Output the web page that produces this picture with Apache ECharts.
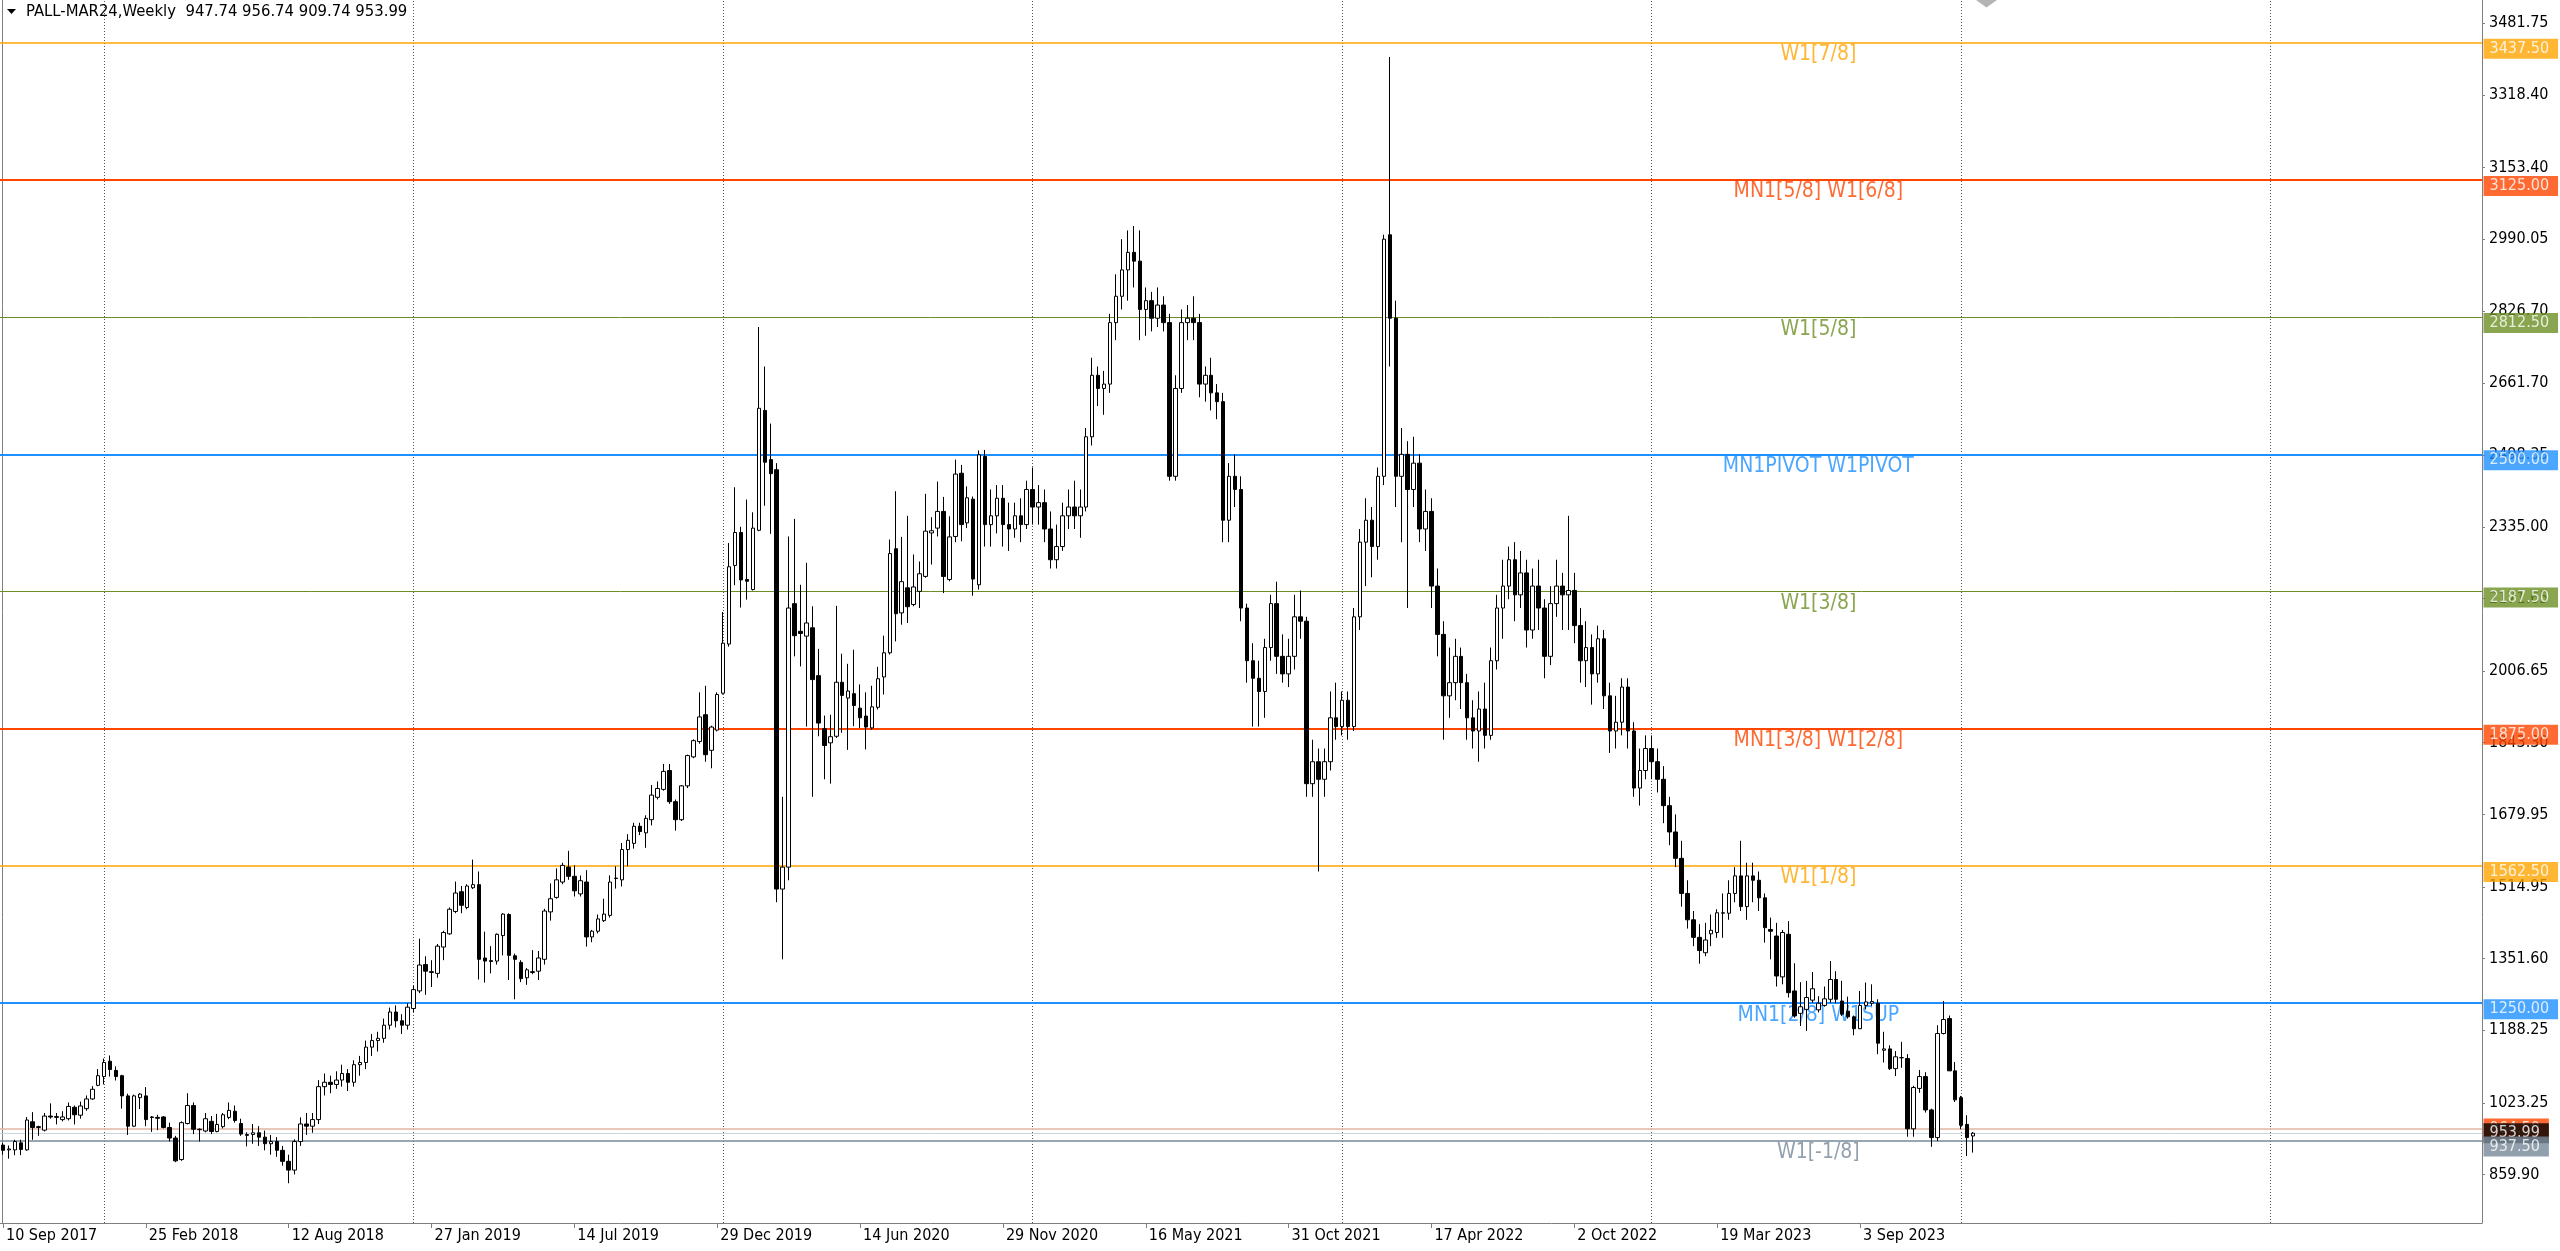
<!DOCTYPE html>
<html><head><meta charset="utf-8">
<script src="https://cdn.jsdelivr.net/npm/echarts@6/dist/echarts.min.js"></script>
<style>html,body{margin:0;padding:0;background:#fff}#c{width:2560px;height:1251px}</style>
</head><body><div id="c"></div>
<script>
// ---- data: weekly candles [open, high, low, close] ----
const candles2017 = [[927,932,905,915],[916,926,896,918],[916,939,904,935],[932,939,904,917],[916,991,914,984],[980,1002,939,967],[967,971,948,969],[961,1000,958,993],[993,1022,987,991],[990,1000,974,992],[985,1004,981,991],[987,1024,983,1015],[1013,1017,974,996],[995,1026,987,1016],[1010,1040,1005,1032],[1032,1061,1030,1054],[1063,1100,1061,1085]];
const candles2018 = [[1083,1124,1065,1115],[1118,1131,1083,1099],[1097,1106,1074,1083],[1085,1087,1010,1039],[1039,1044,950,970],[970,1042,968,1039],[1035,1045,1009,1043],[1039,1059,970,985],[991,993,957,990],[990,996,961,988],[991,993,965,967],[967,978,935,943],[943,948,888,891],[894,981,891,978],[976,1045,974,1017],[1017,1024,952,963],[963,965,935,962],[959,1000,956,987],[981,993,952,958],[958,998,956,974],[969,1000,965,996],[990,1024,986,1006],[1004,1017,978,983],[976,987,948,952],[949,956,924,951],[951,975,930,955],[955,970,925,945],[945,960,915,930],[930,950,905,935],[935,945,900,915],[915,925,880,890],[890,905,840,870],[870,940,860,935],[935,990,925,975],[975,1000,950,970],[970,1000,955,985],[985,1075,975,1060],[1060,1090,1040,1070],[1070,1085,1045,1065],[1065,1095,1055,1075],[1075,1110,1060,1090],[1090,1100,1050,1070],[1070,1120,1060,1110],[1110,1130,1085,1115],[1115,1165,1100,1150],[1150,1180,1130,1165],[1165,1185,1140,1170],[1170,1215,1160,1200],[1200,1240,1190,1230],[1230,1245,1195,1210],[1210,1225,1180,1200],[1200,1250,1190,1241]];
const candles2019 = [[1238,1290,1230,1281],[1278,1397,1273,1337],[1338,1357,1269,1323],[1320,1348,1287,1322],[1318,1385,1308,1380],[1378,1415,1348,1411],[1408,1468,1406,1464],[1459,1527,1455,1501],[1504,1517,1455,1473],[1468,1521,1464,1517],[1513,1577,1510,1520],[1520,1550,1304,1350],[1353,1413,1297,1346],[1347,1380,1318,1345],[1346,1409,1338,1407],[1404,1455,1359,1453],[1452,1455,1303,1359],[1358,1363,1259,1350],[1343,1348,1298,1306],[1308,1330,1292,1326],[1320,1371,1316,1322],[1323,1369,1303,1353],[1350,1465,1338,1460],[1458,1523,1438,1488],[1491,1557,1488,1531],[1526,1570,1521,1564],[1560,1597,1531,1539],[1539,1564,1493,1506],[1499,1541,1493,1529],[1526,1553,1379,1401],[1401,1417,1389,1414],[1414,1452,1409,1442],[1438,1488,1435,1453],[1450,1541,1445,1526],[1534,1562,1511,1535],[1531,1615,1516,1600],[1600,1635,1562,1621],[1614,1661,1602,1653],[1653,1661,1633,1641],[1638,1678,1604,1671],[1668,1747,1655,1724],[1719,1755,1714,1739],[1737,1795,1734,1778],[1780,1795,1704,1709],[1709,1714,1643,1668],[1668,1747,1665,1745],[1745,1816,1740,1814],[1811,1851,1808,1848],[1846,1958,1841,1902],[1907,1973,1800,1816],[1826,1882,1785,1879],[1872,1958,1869,1953]];
const candles2020 = [[1956,2141,1953,2070],[2068,2298,2062,2244],[2247,2425,2202,2322],[2322,2335,2151,2214],[2215,2397,2169,2211],[2192,2368,2190,2332],[2327,2790,2325,2605],[2600,2700,2383,2482],[2488,2570,2319,2456],[2465,2480,1480,1510],[1510,1720,1350,1560],[1560,2313,1530,2150],[2160,2353,2040,2087],[2097,2203,2017,2092],[2086,2253,1880,2116],[2105,2154,1720,1987],[1996,2057,1858,1888],[1875,1905,1760,1837],[1843,1907,1750,1857],[1858,2155,1854,1981],[1981,2046,1866,1951],[1945,2023,1827,1961],[1955,2055,1881,1928],[1922,1976,1877,1900],[1904,1958,1828,1879],[1877,1973,1873,1925],[1924,2016,1919,1989],[1993,2087,1953,2048],[2048,2306,2044,2274],[2285,2416,2074,2137],[2139,2312,2112,2210],[2196,2360,2116,2153],[2158,2272,2154,2198],[2188,2256,2150,2228],[2222,2410,2219,2325],[2321,2357,2249,2326],[2332,2438,2313,2370],[2370,2403,2184,2222],[2215,2359,2211,2312],[2313,2488,2300,2455],[2457,2476,2302,2340],[2344,2427,2332,2401],[2398,2404,2178,2216],[2203,2509,2192,2499],[2495,2510,2290,2340],[2340,2420,2290,2360],[2360,2430,2320,2400],[2400,2430,2290,2340],[2340,2390,2280,2330],[2330,2390,2310,2360],[2360,2400,2300,2340],[2340,2440,2330,2420]];
const candles2021 = [[2420,2470,2340,2380],[2380,2430,2340,2390],[2390,2420,2300,2330],[2330,2370,2240,2260],[2260,2340,2240,2290],[2290,2390,2280,2360],[2360,2420,2330,2380],[2380,2440,2330,2360],[2360,2420,2310,2380],[2380,2560,2370,2540],[2540,2720,2520,2680],[2680,2700,2610,2650],[2650,2690,2590,2660],[2660,2820,2640,2800],[2800,2910,2760,2860],[2860,2990,2830,2920],[2920,3010,2850,2960],[2960,3020,2880,2940],[2940,3010,2760,2830],[2830,2880,2770,2850],[2850,2870,2780,2810],[2810,2880,2790,2840],[2840,2860,2780,2800],[2800,2820,2440,2450],[2450,2680,2440,2650],[2650,2830,2640,2800],[2800,2840,2760,2810],[2810,2860,2760,2800],[2800,2820,2630,2660],[2660,2700,2620,2680],[2680,2720,2600,2640],[2640,2660,2580,2620],[2620,2640,2300,2350],[2350,2480,2300,2450],[2450,2500,2380,2420],[2420,2450,2120,2150],[2150,2160,1980,2030],[2030,2070,1880,1990],[1990,2030,1880,1960],[1960,2080,1900,2060],[2060,2180,2030,2160],[2160,2210,2000,2040],[2040,2090,1980,2000],[2000,2080,1970,2040],[2040,2180,2010,2130],[2130,2190,2080,2120],[2120,2130,1720,1750],[1750,1850,1720,1800],[1800,1830,1550,1760],[1760,1830,1720,1800],[1800,1960,1780,1900],[1900,1980,1850,1880]];
const candles2022 = [[1880,1960,1860,1940],[1940,1960,1850,1880],[1880,2150,1870,2130],[2130,2330,2100,2300],[2300,2400,2200,2350],[2350,2380,2220,2290],[2290,2470,2260,2450],[2450,3000,2430,2990],[3000,3405,2700,2810],[2810,2850,2380,2450],[2450,2560,2300,2500],[2500,2530,2150,2420],[2420,2540,2380,2480],[2480,2500,2300,2330],[2330,2420,2280,2370],[2370,2400,2150,2200],[2200,2240,2040,2090],[2090,2120,1850,1950],[1950,2060,1900,1980],[1980,2080,1940,2040],[2040,2060,1920,1980],[1980,2000,1850,1900],[1900,1940,1830,1870],[1870,1960,1800,1920],[1920,1980,1830,1860],[1860,2060,1850,2030],[2030,2180,2010,2150],[2150,2260,2080,2200],[2200,2290,2170,2260],[2260,2300,2120,2180],[2180,2280,2150,2230],[2230,2260,2060,2100],[2100,2240,2080,2200],[2200,2260,2100,2150],[2150,2170,1990,2040],[2040,2200,2020,2160],[2160,2260,2130,2200],[2200,2230,2100,2180],[2180,2360,2100,2190],[2190,2230,2070,2110],[2110,2150,1980,2030],[2030,2120,1970,2060],[2060,2090,1930,2000],[2000,2110,1980,2080],[2080,2100,1920,1950],[1950,1980,1820,1870],[1870,1950,1830,1890],[1890,1990,1860,1970],[1970,1990,1830,1870],[1870,1890,1720,1740],[1740,1830,1700,1780],[1780,1860,1760,1830]];
const candles2023 = [[1830,1860,1760,1800],[1800,1830,1730,1760],[1760,1790,1660,1700],[1700,1720,1610,1640],[1640,1680,1560,1580],[1580,1620,1470,1500],[1500,1530,1420,1440],[1440,1460,1380,1400],[1400,1430,1340,1370],[1365,1433,1357,1394],[1408,1452,1380,1416],[1411,1464,1399,1456],[1455,1500,1399,1456],[1455,1530,1440,1500],[1500,1560,1480,1540],[1540,1620,1460,1470],[1470,1570,1440,1540],[1540,1570,1480,1530],[1530,1550,1460,1490],[1490,1500,1388,1422],[1418,1445,1350,1414],[1403,1433,1288,1312],[1310,1417,1293,1411],[1407,1437,1263,1274],[1278,1341,1217,1221],[1227,1298,1198,1242],[1236,1301,1187,1263],[1257,1321,1251,1283],[1235,1266,1229,1250],[1245,1288,1242,1260],[1259,1346,1251,1304],[1304,1323,1250,1259],[1255,1301,1221,1225],[1232,1265,1215,1219],[1219,1222,1177,1192],[1192,1278,1191,1245],[1245,1297,1236,1253],[1250,1293,1244,1254],[1250,1259,1134,1159],[1143,1185,1115,1146],[1146,1154,1098,1101],[1101,1141,1084,1128],[1126,1162,1103,1126],[1124,1134,946,964],[964,1062,946,1058],[1056,1098,1046,1083],[1083,1093,1001,1007],[1007,1010,923,944],[944,1200,936,1181],[1181,1255,1179,1213],[1215,1222,1096,1096],[1096,1116,1025,1030]];
const candles2024 = [[1035,1039,963,972],[974,995,902,944],[947.74,956.74,909.74,953.99]];

const dateLabels = ['10 Sep 2017','25 Feb 2018','12 Aug 2018','27 Jan 2019','14 Jul 2019','29 Dec 2019','14 Jun 2020','29 Nov 2020','16 May 2021','31 Oct 2021','17 Apr 2022','2 Oct 2022','19 Mar 2023','3 Sep 2023'];
const priceTicks = [859.90,1023.25,1188.25,1351.60,1514.95,1679.95,1843.30,2006.65,2171.65,2335.00,2498.35,2661.70,2826.70,2990.05,3153.40,3318.40,3481.75];
const levelValues = [3437.5,3125,2812.5,2500,2187.5,1875,1562.5,1250,937.5];
const levelNames = ['W1[7/8]','MN1[5/8] W1[6/8]','W1[5/8]','MN1PIVOT W1PIVOT','W1[3/8]','MN1[3/8] W1[2/8]','W1[1/8]','MN1[2/8] W1SUP','W1[-1/8]'];
const yearStartBars = [17,69,121,173,225,277,329,381];
const bidPrice = 953.99;
const askPrice = 964.5;

// ---- styles ----
const levelColors = ['#FFA500','#FF4500','#6B8E23','#1E90FF','#6B8E23','#FF4500','#FFA500','#1E90FF','#778899'];
const levelWidths = [1.5,2,1,2,1,2,1.5,2,1.5];
const FONT = "'DejaVu Sans Condensed', 'DejaVu Sans', sans-serif";
const SLOTS = 417;
const LABEL_STEP = 24;
const CLEAR = 'rgba(0,0,0,0)';

const ohlc = [].concat(candles2017, candles2018, candles2019, candles2020, candles2021, candles2022, candles2023, candles2024);
const candleData = ohlc.map(r => [r[0], r[3], r[2], r[1]]);
const lastBar = ohlc.length - 1;
const last = ohlc[lastBar];
const categories = Array.from({length: SLOTS}, (_, i) => String(i));
const showTick = (i) => i % LABEL_STEP === 0 && i <= lastBar;

const chart = echarts.init(document.getElementById('c'), null, {renderer: 'canvas'});
const markData = [];
yearStartBars.forEach(b => markData.push({xAxis: b, lineStyle: {color: '#555', type: [1, 2], width: 1}}));
levelValues.forEach((v, i) => markData.push({yAxis: v, lineStyle: {color: levelColors[i], width: levelWidths[i], type: 'solid'}}));
markData.push({yAxis: askPrice, lineStyle: {color: '#E2B6A2', width: 1.5, type: 'solid'}});
markData.push({yAxis: bidPrice, lineStyle: {color: '#CDD5DD', width: 1, type: 'solid'}});

const tagLabel = {show: true, position: 'right', distance: 4, color: '#fff', fontSize: 16, lineHeight: 15, fontFamily: FONT, padding: [3, 9, 2, 6]};

chart.setOption({
  animation: false,
  backgroundColor: '#fff',
  title: {
    text: 'PALL-MAR24,Weekly  ' + last.map(v => v.toFixed(2)).join(' '),
    left: 26, top: 3, padding: 0,
    textStyle: {fontSize: 16.5, fontWeight: 'normal', color: '#000', fontFamily: FONT}
  },
  graphic: [
    {type: 'polygon', shape: {points: [[7, 9], [16, 9], [11.5, 14]]}, style: {fill: '#000'}},
    {type: 'polygon', shape: {points: [[1976, 0], [1997, 0], [1986.5, 7.5]]}, style: {fill: '#b4b4b4'}}
  ],
  grid: {left: -1, right: 78, top: 0, bottom: 28, containLabel: false},
  xAxis: [{
    type: 'category', data: categories, boundaryGap: true,
    axisLine: {onZero: false, lineStyle: {color: '#7f7f7f', width: 1}},
    axisTick: {show: true, interval: (i) => showTick(i), alignWithLabel: true, length: 5, lineStyle: {color: '#7f7f7f'}},
    axisLabel: {interval: (i) => showTick(i), formatter: (v, i) => dateLabels[i / LABEL_STEP], align: 'left', margin: 5, padding: [0, 0, 0, 3], fontSize: 16, fontFamily: FONT, color: '#000'},
    splitLine: {show: false}
  }],
  yAxis: [{
    type: 'value', position: 'right', min: 749.5, max: 3534.7,
    axisLine: {show: true, lineStyle: {color: '#7f7f7f'}},
    axisTick: {show: true, customValues: priceTicks, length: 3, lineStyle: {color: '#7f7f7f'}},
    axisLabel: {customValues: priceTicks, formatter: v => v.toFixed(2), margin: 7, fontSize: 16, fontFamily: FONT, color: '#000'},
    splitLine: {show: false}
  }, {
    type: 'value', position: 'left', offset: -2, min: 749.5, max: 3534.7,
    axisLine: {show: true, lineStyle: {color: '#7f7f7f'}}, axisTick: {show: false}, axisLabel: {show: false}, splitLine: {show: false}
  }],
  series: [
    {
      type: 'candlestick', name: 'PALL-MAR24', data: candleData, barWidth: 4, z: 3,
      itemStyle: {color: '#ffffff', color0: '#000000', borderColor: '#000000', borderColor0: '#000000', borderWidth: 1},
      markLine: {silent: true, symbol: ['none', 'none'], z: 1, animation: false, label: {show: false}, data: markData}
    },
    {
      type: 'scatter', name: 'levelText', z: 2, silent: true, symbolSize: 1, itemStyle: {color: CLEAR}, clip: false,
      data: levelValues.map((v, i) => ({value: [305.4, v], name: levelNames[i], label: {color: levelColors[i]}})),
      label: {show: true, position: 'bottom', distance: 1, formatter: '{b}', fontSize: 21, fontFamily: FONT}
    },
    {
      type: 'scatter', name: 'askTag', z: 5, silent: true, symbolSize: 1, itemStyle: {color: CLEAR}, clip: false,
      data: [{value: [SLOTS - 1, askPrice]}],
      label: Object.assign({}, tagLabel, {backgroundColor: '#FF4500', formatter: askPrice.toFixed(2)})
    },
    {
      type: 'scatter', name: 'bidTag', z: 6, silent: true, symbolSize: 1, itemStyle: {color: CLEAR}, clip: false,
      data: [{value: [SLOTS - 1, bidPrice]}],
      label: Object.assign({}, tagLabel, {backgroundColor: '#000000', formatter: bidPrice.toFixed(2)})
    },
    {
      type: 'scatter', name: 'levelTags', z: 7, silent: true, symbolSize: 1, itemStyle: {color: CLEAR}, clip: false,
      data: levelValues.map((v, i) => ({value: [SLOTS - 1, v], label: {backgroundColor: levelColors[i], formatter: v.toFixed(2)}})),
      label: Object.assign({}, tagLabel, {offset: [0, 6]})
    }
  ]
});
</script></body></html>
